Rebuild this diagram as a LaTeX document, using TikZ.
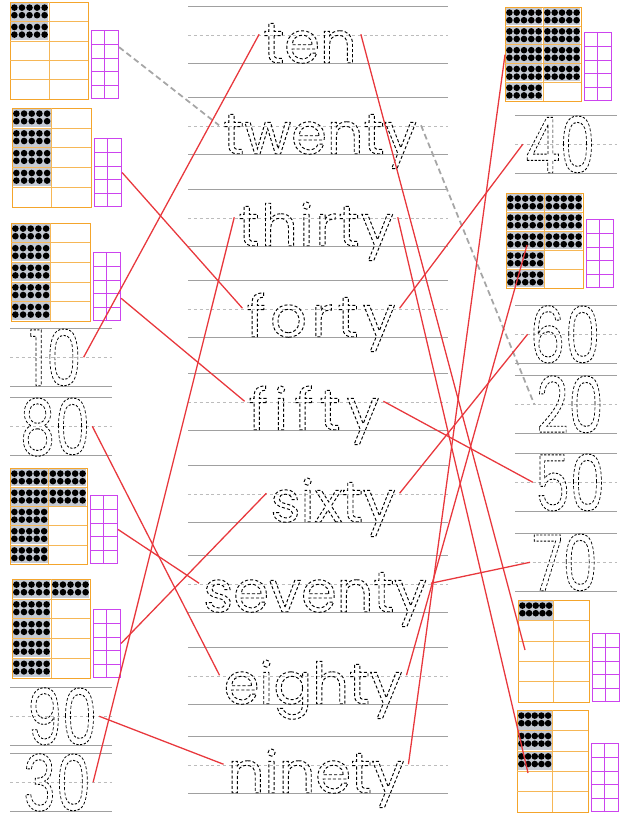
\documentclass[tikz,border=0pt]{standalone}
\usepackage{fontspec}
\usepackage{graphicx}
\usepackage{xcolor}
\usepackage{tikz}
\newfontfamily\tracefont{Poppins}
\definecolor{frameorange}{HTML}{F4A52C}
\definecolor{onespurple}{HTML}{CC44EE}
\definecolor{matchred}{HTML}{E8383D}
\definecolor{rulegray}{HTML}{A0A0A0}
\definecolor{dotbg}{HTML}{C5CAD3}
\newcommand{\tracing}[1]{\special{pdf:literal direct 1 Tr 0.8 w [2.6 1.8] 0 d}#1\special{pdf:literal direct 0 Tr [] 0 d}}
\tikzset{
    word/.style={
        inner xsep=0.12cm, inner ysep=0pt, text height=1.71cm, text depth=0pt,
        anchor=south, font=\tracefont\fontsize{49}{49}\selectfont
    },
    numeral/.style={
        inner xsep=0.06cm, inner ysep=0pt, text height=1.71cm, text depth=0pt,
        anchor=south, font=\tracefont\fontsize{66}{66}\selectfont
    },
    rule/.style={rulegray, line width=0.6pt},
    midrule/.style={rulegray!70, line width=0.5pt, dash pattern=on 2.5pt off 2.5pt},
    tframe/.style={draw=frameorange, line width=1.1pt, inner sep=0pt, anchor=north west},
    tgrid/.style={frameorange!80, line width=0.5pt},
    oframe/.style={
        draw=onespurple, line width=0.9pt, inner sep=0pt, anchor=south west,
        minimum width=27*0.3mm, minimum height=68*0.3mm
    },
    ogrid/.style={onespurple, line width=0.6pt},
    match/.style={matchred, line width=1.1pt},
    hint/.style={gray!70, line width=1.5pt, dash pattern=on 5pt off 3pt}
}
\newcommand{\tenframe}[6]{%
    \node[tframe, minimum width=#4*0.3mm, minimum height=#5*0.3mm] (#1) at (#2,#3) {};
    \foreach \col/\row in {#6} {
        \fill[dotbg] (#2+\col*#4/2+0.8,#3+\row*#5/5+0.8) rectangle ++(#4/2-1.6,#5/5-1.6);
        \foreach \k in {0,...,4} \foreach \m in {0,1}
            \fill (#2+\col*#4/2+4.4+\k*#4/8-\k*2.2,#3+\row*#5/5+5.6+\m*7.6) circle (3.3);
    }
    \foreach \row in {1,...,4} \draw[tgrid] (#2,#3+\row*#5/5) -- ++(#4,0);
    \draw[tgrid] (#2+#4/2,#3) -- ++(0,#5);
    \node[oframe] (#1o) at (#2+#4+3,#3+#5) {};
    \foreach \row in {1,...,4} \draw[ogrid] (#2+#4+3,#3+#5-\row*13.6) -- ++(27,0);
    \draw[ogrid] (#2+#4+16.5,#3+#5) -- ++(0,-68);
}
\begin{document}
\begin{tikzpicture}[x=0.03cm, y=-0.03cm]
    \useasboundingbox (0,0) rectangle (626,818);
    \foreach \t in {6,97,189,280,373,465,555,647,736} {
        \draw[rule] (188,\t) -- (448,\t);
        \draw[midrule] (188,\t+29) -- (448,\t+29);
        \draw[rule] (188,\t+57) -- (448,\t+57);
    }
    \foreach \t in {328,397,687,753} {
        \draw[rule] (10,\t) -- (112,\t);
        \draw[midrule] (10,\t+29) -- (112,\t+29);
        \draw[rule] (10,\t+58) -- (112,\t+58);
    }
    \foreach \t in {115,305,375,453,533} {
        \draw[rule] (515,\t) -- (617,\t);
        \draw[midrule] (515,\t+29) -- (617,\t+29);
        \draw[rule] (515,\t+58) -- (617,\t+58);
    }
    \node[word] (wten) at (310,63) {\tracing{ten}};
    \node[word] (wtwenty) at (320,154) {\tracing{twenty}};
    \node[word] (wthirty) at (316,246) {\addfontfeature{LetterSpace=3}\tracing{thirty}};
    \node[word] (wforty) at (321,337) {\addfontfeature{LetterSpace=8}\tracing{forty}};
    \node[word] (wfifty) at (314,430) {\addfontfeature{LetterSpace=11}\tracing{fifty}};
    \node[word] (wsixty) at (333,522) {\tracing{sixty}};
    \node[word] (wseventy) at (315,612) {\tracing{seventy}};
    \node[word] (weighty) at (313,704) {\tracing{eighty}};
    \node[word] (wninety) at (316,793) {\tracing{ninety}};
    \node[numeral] (n10) at (55,386) {\scalebox{0.72}[1]{\tracing{10}}};
    \node[numeral] (n80) at (55,455) {\scalebox{0.72}[1]{\tracing{80}}};
    \node[numeral] (n90) at (62,745) {\scalebox{0.72}[1]{\tracing{90}}};
    \node[numeral] (n30) at (57,811) {\scalebox{0.72}[1]{\tracing{30}}};
    \node[numeral] (n40) at (560,173) {\scalebox{0.72}[1]{\tracing{40}}};
    \node[numeral] (n60) at (565,363) {\scalebox{0.72}[1]{\tracing{60}}};
    \node[numeral] (n20) at (570,433) {\scalebox{0.72}[1]{\tracing{20}}};
    \node[numeral] (n50) at (570,511) {\scalebox{0.72}[1]{\tracing{50}}};
    \node[numeral] (n70) at (565,591) {\scalebox{0.72}[1]{\tracing{70}}};
    \tenframe{l20}{10}{2}{78}{97}{0/0,0/1}
    \tenframe{l40}{12}{108}{79}{99}{0/0,0/1,0/2,0/3}
    \tenframe{l50}{11}{223}{79}{98}{0/0,0/1,0/2,0/3,0/4}
    \tenframe{l70}{10}{468}{77}{96}{0/0,0/1,0/2,0/3,0/4,1/0,1/1}
    \tenframe{l60}{12}{579}{78}{99}{0/0,0/1,0/2,0/3,0/4,1/0}
    \tenframe{r90}{505}{7}{76}{94}{0/0,0/1,0/2,0/3,0/4,1/0,1/1,1/2,1/3}
    \tenframe{r80}{506}{193}{77}{95}{0/0,0/1,0/2,0/3,0/4,1/0,1/1,1/2}
    \tenframe{r10}{518}{600}{71}{102}{0/0}
    \tenframe{r30}{517}{710}{71}{102}{0/0,0/1,0/2}
    \coordinate (r80pt) at (527,245);
    \coordinate (r10pt) at (525,650);
    \coordinate (r30pt) at (528,773);
    \draw[hint] (l20o.51) -- (wtwenty.west);
    \draw[hint] (wtwenty.east) -- (n20.west);
    \draw[match] (n10.east) -- (wten.west);
    \draw[match] (wten.east) -- (r10pt);
    \draw[match] (n30.east) -- (wthirty.west);
    \draw[match] (wthirty.east) -- (r30pt);
    \draw[match] (l40o.east) -- (wforty.west);
    \draw[match] (wforty.east) -- (n40.west);
    \draw[match] (l50o.-40) -- (wfifty.west);
    \draw[match] (wfifty.east) -- (n50.west);
    \draw[match] (l60o.east) -- (wsixty.west);
    \draw[match] (wsixty.east) -- (n60.west);
    \draw[match] (l70o.east) -- (wseventy.west);
    \draw[match] (wseventy.east) -- (n70.west);
    \draw[match] (n80.east) -- (weighty.west);
    \draw[match] (weighty.east) -- (r80pt);
    \draw[match] (n90.east) -- (wninety.west);
    \draw[match] (wninety.east) -- (r90.west);
\end{tikzpicture}
\end{document}
